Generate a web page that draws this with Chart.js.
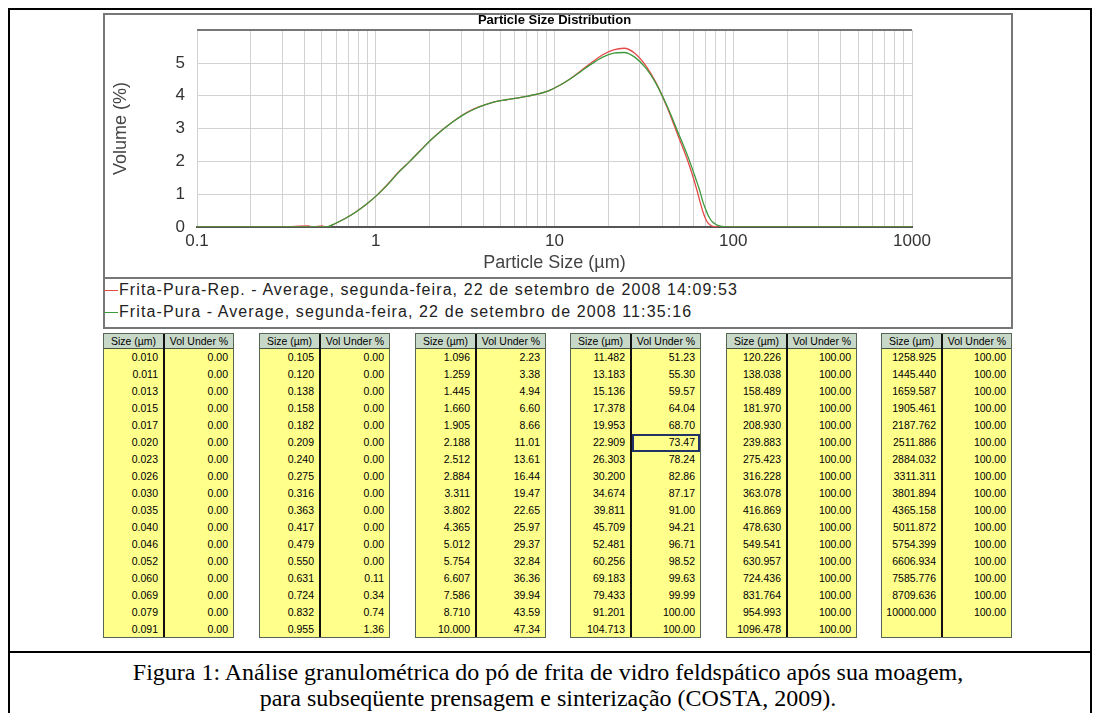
<!DOCTYPE html>
<html>
<head>
<meta charset="utf-8">
<script src="https://cdn.jsdelivr.net/npm/chart.js@4/dist/chart.umd.min.js"></script>
<style>
  body { margin: 0; background: #fff; }
  #page { position: relative; width: 1096px; height: 713px; overflow: hidden; background: #fff; font-family: "Liberation Sans", Arial, sans-serif; }
  #frame { position: absolute; left: 8px; top: 8px; width: 1080px; height: 720px; border-left: 2px solid #000; border-top: 2px solid #000; border-right: 2px solid #000; }
  #capline { position: absolute; left: 8px; top: 651px; width: 1082px; height: 2px; background: #000; }
  #panel { position: absolute; left: 103px; top: 13px; width: 906px; height: 312px; border: 2px solid #777; background: #fff; }
  #chart { position: absolute; left: 104px; top: 8px; }
  #legend { position: absolute; left: 103px; top: 277px; width: 908px; border-top: 2px solid #777; }
  .leg { position: absolute; left: 1px; height: 20px; font-size: 16px; letter-spacing: 1.1px; color: #222; white-space: nowrap; line-height: 20px; }
  .leg i { display: inline-block; width: 14px; height: 0; border-top: 1px solid; vertical-align: middle; margin-right: 1px; }
  .tbl { position: absolute; top: 333px; width: 129px; height: 303px; border: 1px solid #566656; background: #ffff8c; font-size: 10.5px; color: #000; }
  .tbl .hd { position: absolute; left: 0; top: 0; width: 129px; height: 14px; background: #c8d8c8; border-bottom: 1px solid #445544; }
  .tbl .sep { position: absolute; left: 59px; top: 0; width: 2px; height: 303px; background: #111; }
  .tbl span { position: absolute; white-space: nowrap; line-height: 14px; }
  #caption { position: absolute; left: 0; top: 659px; width: 1096px; text-align: center; font-family: "Liberation Serif", "Times New Roman", serif; font-size: 24px; line-height: 26px; color: #000; }
</style>
</head>
<body>
<div id="page">
  <div id="frame"></div>
  <div id="panel"></div>
  <canvas id="chart" width="907" height="269"></canvas>
  <div id="legend"></div>
  <div id="tables"></div>
  <div id="capline"></div>
  <div id="caption"></div>
</div>
<script>
// curve data (size in um, volume %)
var sizes = [0.1, 0.3, 0.42, 0.45, 0.5, 0.53, 0.59, 0.67, 0.77, 0.89, 1.02, 1.17, 1.35, 1.55, 1.78, 2.04, 2.34, 2.69, 3.09, 3.55,
             4.07, 4.68, 5.37, 6.17, 7.08, 8.13, 9.33, 10.7, 12.3, 14.1, 16.2, 18.6, 21.4, 24.5, 28.1, 32.4, 37.2, 42.7, 49.0, 56.2,
             61.9, 64.6, 67.8, 70, 72, 74, 76, 79, 82, 85, 90, 100, 1000];
var volRep = [0, 0, 0.03, 0, 0.03, 0, 0.1, 0.25, 0.45, 0.7, 0.98, 1.31, 1.69, 2.0, 2.34, 2.66, 2.95, 3.2, 3.43, 3.6,
              3.72, 3.82, 3.88, 3.93, 3.99, 4.06, 4.16, 4.32, 4.53, 4.77, 5.02, 5.25, 5.4, 5.45, 5.3, 4.92, 4.37, 3.64, 2.8, 1.95,
              1.22, 0.85, 0.45, 0.25, 0.13, 0.07, 0.03, 0.01, 0, 0, 0, 0, 0];
var volPura = [0, 0, 0, 0, 0, 0, 0.1, 0.25, 0.45, 0.7, 0.98, 1.3, 1.68, 2.0, 2.33, 2.66, 2.94, 3.2, 3.42, 3.59,
               3.72, 3.82, 3.88, 3.93, 3.99, 4.06, 4.16, 4.32, 4.52, 4.75, 4.98, 5.18, 5.3, 5.32, 5.18, 4.85, 4.35, 3.68, 2.9, 2.1,
               1.45, 1.15, 0.75, 0.55, 0.38, 0.26, 0.17, 0.1, 0.05, 0.03, 0, 0, 0];

var seriesNames = ["Frita-Pura-Rep. - Average, segunda-feira, 22 de setembro de 2008 14:09:53",
                   "Frita-Pura - Average, segunda-feira, 22 de setembro de 2008 11:35:16"];
var seriesColors = ["#e34b4b", "#3c9a3c"];
var xLabels = [0.1, 1, 10, 100, 1000];
var yLabels = [0, 1, 2, 3, 4, 5];

// result table
var tableSizes = [0.010, 0.011, 0.013, 0.015, 0.017, 0.020, 0.023, 0.026, 0.030, 0.035, 0.040, 0.046, 0.052, 0.060, 0.069, 0.079, 0.091,
  0.105, 0.120, 0.138, 0.158, 0.182, 0.209, 0.240, 0.275, 0.316, 0.363, 0.417, 0.479, 0.550, 0.631, 0.724, 0.832, 0.955,
  1.096, 1.259, 1.445, 1.660, 1.905, 2.188, 2.512, 2.884, 3.311, 3.802, 4.365, 5.012, 5.754, 6.607, 7.586, 8.710, 10.000,
  11.482, 13.183, 15.136, 17.378, 19.953, 22.909, 26.303, 30.200, 34.674, 39.811, 45.709, 52.481, 60.256, 69.183, 79.433, 91.201, 104.713,
  120.226, 138.038, 158.489, 181.970, 208.930, 239.883, 275.423, 316.228, 363.078, 416.869, 478.630, 549.541, 630.957, 724.436, 831.764, 954.993, 1096.478,
  1258.925, 1445.440, 1659.587, 1905.461, 2187.762, 2511.886, 2884.032, 3311.311, 3801.894, 4365.158, 5011.872, 5754.399, 6606.934, 7585.776, 8709.636, 10000.000];
var tableVolUnder = [0, 0, 0, 0, 0, 0, 0, 0, 0, 0, 0, 0, 0, 0, 0, 0, 0,
  0, 0, 0, 0, 0, 0, 0, 0, 0, 0, 0, 0, 0, 0.11, 0.34, 0.74, 1.36,
  2.23, 3.38, 4.94, 6.60, 8.66, 11.01, 13.61, 16.44, 19.47, 22.65, 25.97, 29.37, 32.84, 36.36, 39.94, 43.59, 47.34,
  51.23, 55.30, 59.57, 64.04, 68.70, 73.47, 78.24, 82.86, 87.17, 91.00, 94.21, 96.71, 98.52, 99.63, 99.99, 100, 100,
  100, 100, 100, 100, 100, 100, 100, 100, 100, 100, 100, 100, 100, 100, 100, 100, 100,
  100, 100, 100, 100, 100, 100, 100, 100, 100, 100, 100, 100, 100, 100, 100, 100];
var captionLines = ["Figura 1: Análise granulométrica do pó de frita de vidro feldspático após sua moagem,",
                    "para subseqüente prensagem e sinterização (COSTA, 2009)."];

function points(vals) {
    return sizes.map(function (s, i) { return { x: s, y: vals[i] }; });
}

// grid at 1..9 of every decade
var gridSizes = [];
[0.1, 1, 10, 100].forEach(function (d) {
    for (var k = 1; k < 10; k++) gridSizes.push(+(d * k).toFixed(4));
});
gridSizes.push(1000);

var tickFont = { family: "Liberation Sans", size: 17 };
var titleFont = { family: "Liberation Sans", size: 18 };
var lightGrid = "#d2d2d2";

new Chart(document.getElementById("chart").getContext("2d"), {
    type: "line",
    data: {
        datasets: [
            { label: seriesNames[0], data: points(volRep), borderColor: seriesColors[0], borderWidth: 1.3,
              pointRadius: 0, cubicInterpolationMode: "monotone", fill: false, order: 1 },
            { label: seriesNames[1], data: points(volPura), borderColor: seriesColors[1], borderWidth: 1.3,
              pointRadius: 0, cubicInterpolationMode: "monotone", fill: false, order: 0 }
        ]
    },
    options: {
        responsive: false,
        animation: false,
        layout: { padding: { left: 0, right: 99, top: 0, bottom: 0 } },
        plugins: {
            legend: { display: false },
            tooltip: { enabled: false },
            title: { display: true, fullSize: false, text: "Particle Size Distribution", color: "#000",
                     font: { family: "Liberation Sans", size: 13, weight: "bold" }, padding: { top: 0, bottom: 2 } }
        },
        scales: {
            x: {
                type: "logarithmic", min: 0.1, max: 1000,
                afterBuildTicks: function (s) { s.ticks = gridSizes.map(function (v) { return { value: v }; }); },
                afterFit: function (s) { s.height = 50; },
                ticks: { autoSkip: false, maxRotation: 0, minRotation: 0, padding: 4, color: "#333", font: tickFont,
                         callback: function (v) { return xLabels.indexOf(v) >= 0 ? String(v) : ""; } },
                grid: { color: lightGrid, lineWidth: 1, drawTicks: false },
                border: { display: true, color: "#555", width: 2 },
                title: { display: true, text: "Particle Size (µm)", color: "#444", font: titleFont, padding: { top: 0, bottom: 3 } }
            },
            y: {
                min: 0, max: 6,
                afterBuildTicks: function (s) { s.ticks = yLabels.concat([6]).map(function (v) { return { value: v }; }); },
                afterFit: function (s) { s.width = 93; },
                ticks: { padding: 12, color: "#333", font: tickFont,
                         callback: function (v) { return yLabels.indexOf(v) >= 0 ? String(v) : ""; } },
                grid: { color: function (c) { return c.tick && c.tick.value === 6 ? "#777" : lightGrid; },
                        lineWidth: function (c) { return c.tick && c.tick.value === 6 ? 2 : 1; }, drawTicks: false },
                border: { display: false },
                title: { display: true, text: "Volume (%)", color: "#444", font: titleFont, padding: { top: 6, bottom: 0 } }
            }
        }
    }
});

// legend below the plot
var legend = document.getElementById("legend");
seriesNames.forEach(function (name, i) {
    var d = document.createElement("div");
    d.className = "leg";
    d.style.top = (1 + i * 22) + "px";
    d.innerHTML = '<i style="border-color:' + seriesColors[i] + '"></i>';
    d.appendChild(document.createTextNode(name));
    legend.appendChild(d);
});

// six small result tables
var tables = document.getElementById("tables");
var tableLeft = [103, 259, 415, 570, 726, 881];
for (var t = 0; t < 6; t++) {
    var box = document.createElement("div");
    box.className = "tbl";
    box.style.left = tableLeft[t] + "px";
    var html = '<div class="hd"></div><div class="sep"></div>' +
        '<span style="left:0;width:59px;top:0;text-align:center">Size (µm)</span>' +
        '<span style="left:61px;width:68px;top:0;text-align:center">Vol Under %</span>';
    for (var r = 0; r < 17; r++) {
        var idx = t * 17 + r;
        if (idx >= tableSizes.length) break;
        var rowTop = 15 + r * 17 + 1;
        html += '<span style="right:75px;top:' + rowTop + 'px">' + tableSizes[idx].toFixed(3) + '</span>' +
                '<span style="right:5px;top:' + rowTop + 'px">' + tableVolUnder[idx].toFixed(2) + '</span>';
        if (t === 3 && r === 5) {
            html += '<div style="position:absolute;left:61px;top:' + (rowTop - 1) + 'px;width:64px;height:14px;border:2px solid #223366"></div>';
        }
    }
    box.innerHTML = html;
    tables.appendChild(box);
}

document.getElementById("caption").innerHTML = captionLines.join("<br>");
</script>
</body>
</html>
